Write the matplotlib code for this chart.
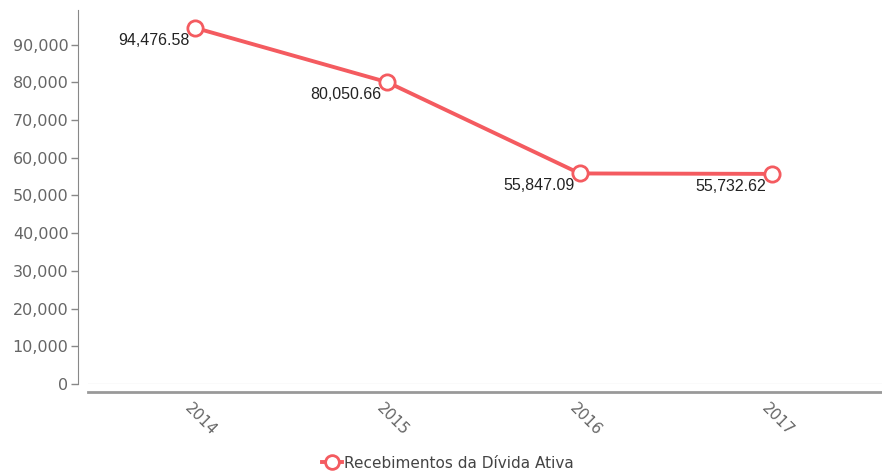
import matplotlib
matplotlib.use("Agg")
import matplotlib.pyplot as plt
import matplotlib.transforms as mtransforms

plt.rcParams["font.family"] = ["DejaVu Sans"]

# dados
anos = ["2014", "2015", "2016", "2017"]
valores = [94476.58, 80050.66, 55847.09, 55732.62]
rotulos = ["94,476.58", "80,050.66", "55,847.09", "55,732.62"]
serie = "Recebimentos da Dívida Ativa"
yticks = [0, 10000, 20000, 30000, 40000, 50000, 60000, 70000, 80000, 90000]

cor = "#f45b60"
cinza = "#666666"

fig = plt.figure(figsize=(8.82, 4.75), dpi=100)
ax = fig.add_axes([88 / 882, 1 - 384 / 475, 794 / 882, 377 / 475])

x = list(range(len(anos)))
ax.axhline(0, color="#e8e8e8", lw=1, zorder=1)
ax.plot(x, valores, color=cor, lw=2.8, marker="o", ms=11,
        markerfacecolor="white", markeredgecolor=cor, markeredgewidth=2,
        zorder=3, label=serie)

for xi, v, r in zip(x, valores, rotulos):
    ax.annotate(r, (xi, v), xytext=(-4, -9), textcoords="offset points",
                ha="right", va="center", fontsize=11.5,
                family="Liberation Sans", color="#222222", zorder=4)

ax.set_xlim(-0.556, 3.571)
ax.set_ylim(0, 100000)
ax.tick_params(axis="y", length=5, width=1, color="#888888", labelcolor=cinza,
               labelsize=11.5, pad=2)
ax.set_yticks(yticks)
ax.set_yticklabels([f"{t:,}" for t in yticks])
ax.set_xticks(x)
ax.set_xticklabels([])
ax.tick_params(axis="x", length=0)

# rótulos dos anos inclinados
trans = mtransforms.blended_transform_factory(ax.transData, ax.transAxes)
for xi, ano in zip(x, anos):
    ax.text(xi - 0.015, -0.045, ano, transform=trans, rotation=-45,
            rotation_mode="anchor", ha="left", va="top",
            fontsize=11, color=cinza)

for s in ["top", "right"]:
    ax.spines[s].set_visible(False)
ax.spines["left"].set_position(("outward", 7))
ax.spines["left"].set_color("#888888")
ax.spines["left"].set_bounds(0, 99300)
ax.spines["bottom"].set_position(("outward", 6))
ax.spines["bottom"].set_color("#999999")
ax.spines["bottom"].set_linewidth(2)

leg = fig.legend(loc="center", bbox_to_anchor=(0.508, 1 - 463 / 475),
                 frameon=False, fontsize=11, handlelength=1.3,
                 handletextpad=0.1, borderpad=0, markerscale=0.9)
for t in leg.get_texts():
    t.set_color("#444444")

fig.savefig("out.png", dpi=100)
